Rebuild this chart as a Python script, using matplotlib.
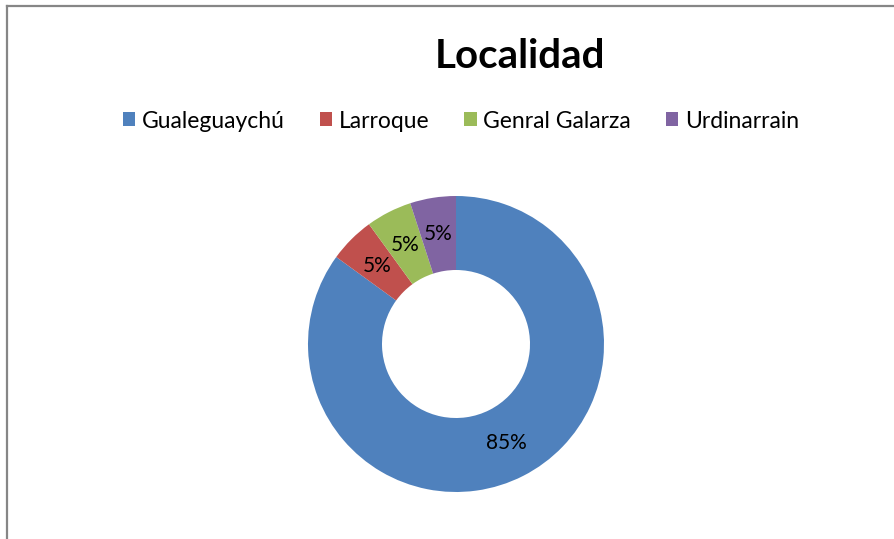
import numpy as np
import matplotlib.pyplot as plt
from matplotlib.patches import Patch
from matplotlib.lines import Line2D

plt.rcParams['font.family'] = ['Lato', 'DejaVu Sans']

# data
localidades = ["Gualeguaychú", "Larroque", "Genral Galarza", "Urdinarrain"]
porcentajes = [85, 5, 5, 5]
colores = ["#4F81BD", "#C0504D", "#9BBB59", "#8064A2"]

W, H = 894, 539
fig = plt.figure(figsize=(W / 100, H / 100), dpi=100)

# donut: centre (456, 344) px, outer radius 148 px
cx, cy, r = 456, 344, 148
ax = fig.add_axes([(cx - r) / W, (H - cy - r) / H, 2 * r / W, 2 * r / H])
wedges, texts, autotexts = ax.pie(
    porcentajes, colors=colores, startangle=90, counterclock=False,
    radius=1, autopct='%d%%', pctdistance=0.75,
    wedgeprops=dict(width=0.5, edgecolor='none'),
    textprops=dict(fontsize=15, color='black'))
ax.set_xlim(-1, 1)
ax.set_ylim(-1, 1)
ax.set_aspect('equal')
ax.axis('off')

fig.text(520 / W, 1 - 68 / H, "Localidad", ha='center', va='baseline',
         fontsize=29, fontweight='bold')

handles = [Patch(facecolor=c, edgecolor='none') for c in colores]
fig.legend(handles, localidades, loc='center', bbox_to_anchor=(461 / W, 1 - 121 / H),
           ncol=4, frameon=False, fontsize=16.5, handlelength=0.55, handleheight=0.55,
           handletextpad=0.3, columnspacing=1.5)

# chart frame (left and top edges visible)
fig.add_artist(Line2D([7 / W, 7 / W], [0, 1 - 6 / H], color='#868686', lw=1.6))
fig.add_artist(Line2D([7 / W, 1], [1 - 6 / H, 1 - 6 / H], color='#868686', lw=1.6))

plt.savefig("out.png", dpi=100)
